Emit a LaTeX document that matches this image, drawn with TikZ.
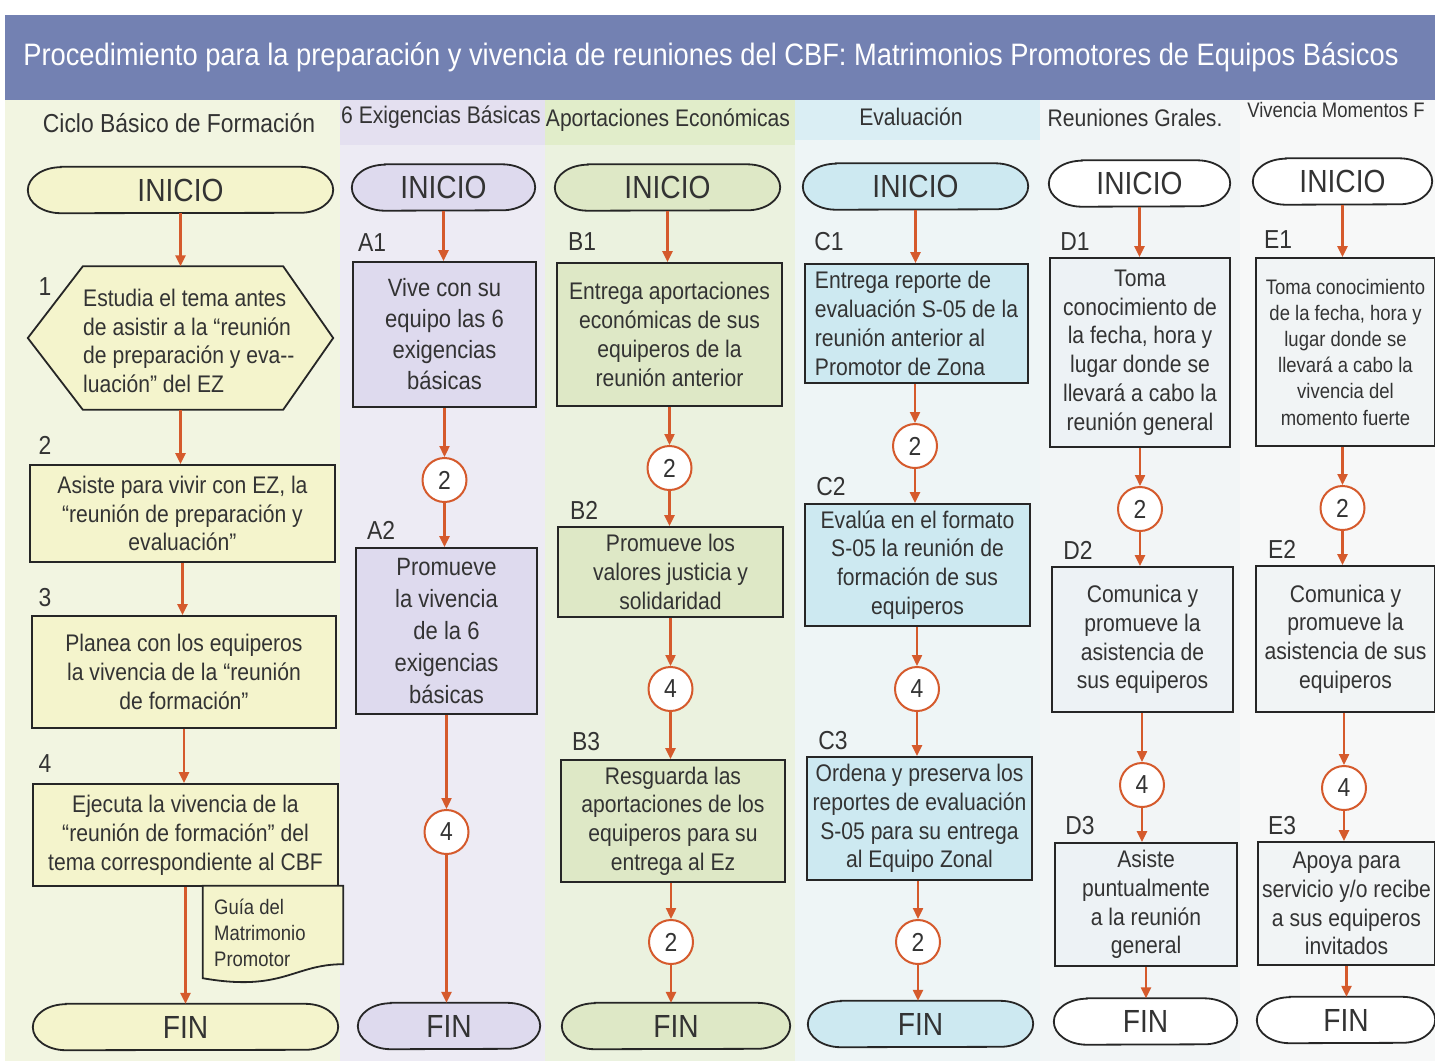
\documentclass[tikz,border=0pt]{standalone}
\usepackage{fontspec}
\setmainfont{Liberation Sans}[FakeStretch=0.88]
\usetikzlibrary{arrows.meta,calc}
\pgfdeclarelayer{back}
\pgfdeclarelayer{shapes}
\pgfsetlayers{back,shapes,main}
\newcommand{\myfs}[2]{\fontsize{#1}{#2}\selectfont}
\newcommand{\termdraw}[2]{\begin{pgfonlayer}{shapes}\draw[draw=boxline, line width=1.8pt, fill=#2] ($(#1.north west)+(33,0)$) -- ($(#1.north east)+(-33,0)$) arc[start angle=90, end angle=-90, x radius=33pt, y radius=23pt] -- ($(#1.south west)+(33,0)$) arc[start angle=270, end angle=90, x radius=33pt, y radius=23pt] -- cycle;\end{pgfonlayer}}
\definecolor{arrc}{HTML}{D55A2C}
\definecolor{boxline}{HTML}{262626}
\definecolor{txt}{HTML}{333333}
\definecolor{titlebg}{HTML}{7381B2}
\definecolor{czero}{HTML}{F2F5E1}
\definecolor{czerof}{HTML}{F4F4CC}
\definecolor{cone}{HTML}{EDEBF4}
\definecolor{coneh}{HTML}{E4E0F0}
\definecolor{conef}{HTML}{DEDAEE}
\definecolor{ctwo}{HTML}{EBF2DF}
\definecolor{ctwoh}{HTML}{E1EDCA}
\definecolor{ctwof}{HTML}{DEE8C6}
\definecolor{cthree}{HTML}{EEF5F6}
\definecolor{cthreeh}{HTML}{DAEEF4}
\definecolor{cthreef}{HTML}{CDE9F1}
\definecolor{cfour}{HTML}{F2F5F6}
\definecolor{cfourf}{HTML}{EDF2F5}
\definecolor{cfive}{HTML}{F7F8F8}
\definecolor{cfivef}{HTML}{F1F4F5}
\tikzset{
  box/.style={draw=boxline, line width=1.8pt, align=center, inner sep=0pt, text=txt, font=\myfs{24}{28.8}},
  term/.style={inner sep=0pt, minimum height=46pt, text=txt, font=\myfs{32}{32}},
  circ/.style={circle, draw=arrc, line width=2pt, fill=white, minimum size=44pt, inner sep=0pt, text=txt, font=\myfs{26}{26}},
  lab/.style={text=txt, font=\myfs{26}{26}, inner sep=0pt},
  hdr/.style={text=txt, font=\myfs{24}{24}, inner sep=0pt},
  arr/.style={draw=arrc, line width=2.3pt, -{Triangle[length=11pt,width=10pt]}},
}
\begin{document}
\begin{tikzpicture}[x=1pt,y=-1pt]
\useasboundingbox (0,0) rectangle (1435,1061);
\begin{pgfonlayer}{back}
\fill[white] (0,0) rectangle (1435,1061);
\fill[titlebg] (5,15) rectangle (1435,100);
\fill[czero] (5,100) rectangle (340,1061);
\fill[cone] (340,100) rectangle (545,1061);
\fill[coneh] (340,100) rectangle (545,145);
\fill[ctwo] (545,100) rectangle (795,1061);
\fill[ctwoh] (545,100) rectangle (795,145);
\fill[cthree] (795,100) rectangle (1040,1061);
\fill[cthreeh] (795,100) rectangle (1040,140);
\fill[cfour] (1040,100) rectangle (1240,1061);
\fill[cfive] (1240,100) rectangle (1435,1061);
\end{pgfonlayer}
% title
\node[text=white, font=\myfs{31}{31}, inner sep=0pt] (title) at (711,57) {Procedimiento para la preparación y vivencia de reuniones del CBF: Matrimonios Promotores de Equipos Básicos};
% headers
\node[hdr, font=\myfs{26}{26}] (h0) at (179,123) {Ciclo Básico de Formación};
\node[hdr] (h1) at (441,117) {6 Exigencias Básicas};
\node[hdr] (h2) at (668,120) {Aportaciones Económicas};
\node[hdr] (h3) at (911,117) {Evaluación};
\node[hdr] (h4) at (1135,118) {Reuniones Grales.};
\node[hdr, font=\myfs{21}{21}] (h5) at (1336,110) {Vivencia Momentos F};

% ---------- column 0
\node[term, minimum width=305pt] (i0) at (180.5,190) {INICIO};
\termdraw{i0}{czerof}
\node[minimum width=305pt, minimum height=143pt, inner sep=0pt] (hx) at (180.5,338) {};
\draw[draw=boxline, line width=1.8pt, fill=czerof] (hx.west) -- ($(hx.north west)+(55,0)$) -- ($(hx.north east)+(-50,0)$) -- (hx.east) -- ($(hx.south east)+(-50,0)$) -- ($(hx.south west)+(55,0)$) -- cycle;
\node[anchor=west, align=left, inner sep=0pt, text=txt, font=\myfs{24}{28.8}] (t1) at (83,341) {Estudia el tema antes\\de asistir a la “reunión\\de preparación y eva-{}-\\luación” del EZ};
\node[lab] (l1) at (45,287) {1};
\node[lab] (l2) at (45,445) {2};
\node[lab] (l3) at (45,598) {3};
\node[lab] (l4) at (45,764) {4};
\node[box, fill=czerof, minimum width=305pt, minimum height=97pt] (b2) at (182.5,513.5) {Asiste para vivir con EZ, la\\“reunión de preparación y\\evaluación”};
\node[box, fill=czerof, minimum width=304pt, minimum height=112pt] (b3) at (184,672) {Planea con los equiperos\\la vivencia de la “reunión\\de formación”};
\node[box, fill=czerof, minimum width=305pt, minimum height=102pt] (b4) at (185.5,835) {Ejecuta la vivencia de la\\“reunión de formación” del\\tema correspondiente al CBF};
\node[minimum width=140pt, minimum height=96pt, inner sep=0pt] (doc) at (273,934) {};
\draw[draw=boxline, line width=1.8pt, fill=czerof] (doc.north west) -- (doc.north east) -- ($(doc.south east)+(0,-18)$) .. controls ($(doc.south east)+(-50,-18)$) and ($(doc.south west)+(80,10)$) .. ($(doc.south west)+(0,-4)$) -- cycle;
\node[anchor=west, align=left, inner sep=0pt, text=txt, font=\myfs{21}{26}] (doct) at (214,933) {Guía del\\Matrimonio\\Promotor};
\node[term, minimum width=305pt] (f0) at (185.5,1027) {FIN};
\termdraw{f0}{czerof}
\draw[arr] (i0.south) -- (i0.south |- hx.north);
\draw[arr] (hx.south) -- (hx.south |- b2.north);
\draw[arr] (b2.south) -- (b2.south |- b3.north);
\draw[arr] (b3.south) -- (b3.south |- b4.north);
\draw[arr] (b4.south) -- (b4.south |- f0.north);

% ---------- column 1
\node[term, minimum width=183pt] (i1) at (443.5,187.5) {INICIO};
\termdraw{i1}{conef}
\node[lab] (la1) at (372,243) {A1};
\node[box, fill=conef, minimum width=183pt, minimum height=145pt, font=\myfs{25}{31}] (a1) at (444.5,334.5) {Vive con su\\equipo las 6\\exigencias\\básicas};
\node[circ] (a1c) at (444.5,480) {2};
\node[lab] (la2) at (381,530) {A2};
\node[box, fill=conef, minimum width=181pt, minimum height=166pt, font=\myfs{25}{32}] (a2) at (446.5,631) {Promueve\\la vivencia\\de la 6\\exigencias\\básicas};
\node[circ] (a2c) at (446.5,832) {4};
\node[term, minimum width=182pt] (f1) at (449,1026) {FIN};
\termdraw{f1}{conef}
\draw[arr] (i1.south) -- (i1.south |- a1.north);
\draw[arr] (a1.south) -- (a1.south |- a1c.north);
\draw[arr] (a1c.south) -- (a1c.south |- a2.north);
\draw[arr] (a2.south) -- (a2.south |- a2c.north);
\draw[arr] (a2c.south) -- (a2c.south |- f1.north);

% ---------- column 2
\node[term, minimum width=225pt] (i2) at (667.5,187.5) {INICIO};
\termdraw{i2}{ctwof}
\node[lab] (lb1) at (582,242) {B1};
\node[box, fill=ctwof, minimum width=225pt, minimum height=143pt] (c2b1) at (669.5,334.5) {Entrega aportaciones\\económicas de sus\\equiperos de la\\reunión anterior};
\node[circ] (b1c) at (669.5,468) {2};
\node[lab] (lb2) at (584,510) {B2};
\node[box, fill=ctwof, minimum width=225pt, minimum height=90pt] (c2b2) at (670.5,572) {Promueve los\\valores justicia y\\solidaridad};
\node[circ] (b2c) at (670.5,689) {4};
\node[lab] (lb3) at (586,742) {B3};
\node[box, fill=ctwof, minimum width=224pt, minimum height=122pt] (c2b3) at (673,821) {Resguarda las\\aportaciones de los\\equiperos para su\\entrega al Ez};
\node[circ] (b3c) at (671,942) {2};
\node[term, minimum width=228pt] (f2) at (676,1026) {FIN};
\termdraw{f2}{ctwof}
\draw[arr] (i2.south) -- (i2.south |- c2b1.north);
\draw[arr] (c2b1.south) -- (c2b1.south |- b1c.north);
\draw[arr] (b1c.south) -- (b1c.south |- c2b2.north);
\draw[arr] (c2b2.south) -- (c2b2.south |- b2c.north);
\draw[arr] (b2c.south) -- (b2c.south |- c2b3.north);
\draw[arr] (c2b3.south -| b3c) -- (b3c.north);
\draw[arr] (b3c.south) -- (b3c.south |- f2.north);

% ---------- column 3
\node[term, minimum width=225pt] (i3) at (915.5,186.5) {INICIO};
\termdraw{i3}{cthreef}
\node[lab] (lc1) at (829,242) {C1};
\node[box, fill=cthreef, minimum width=223pt, minimum height=119pt, align=left] (c1) at (916.5,323.5) {Entrega reporte de\\evaluación S-05 de la\\reunión anterior al\\Promotor de Zona};
\node[circ] (c1c) at (915,446) {2};
\node[lab] (lc2) at (831,487) {C2};
\node[box, fill=cthreef, minimum width=225pt, minimum height=122pt] (c2) at (917.5,565) {Evalúa en el formato\\S-05 la reunión de\\formación de sus\\equiperos};
\node[circ] (c2c) at (917,689) {4};
\node[lab] (lc3) at (833,741) {C3};
\node[box, fill=cthreef, minimum width=225pt, minimum height=123pt] (c3) at (919.5,818.5) {Ordena y preserva los\\reportes de evaluación\\S-05 para su entrega\\al Equipo Zonal};
\node[circ] (c3c) at (918,942) {2};
\node[term, minimum width=225pt] (f3) at (920.5,1024) {FIN};
\termdraw{f3}{cthreef}
\draw[arr] (i3.south) -- (i3.south |- c1.north);
\draw[arr] (c1.south -| c1c) -- (c1c.north);
\draw[arr] (c1c.south) -- (c1c.south |- c2.north);
\draw[arr] (c2.south -| c2c) -- (c2c.north);
\draw[arr] (c2c.south) -- (c2c.south |- c3.north);
\draw[arr] (c3.south -| c3c) -- (c3c.north);
\draw[arr] (c3c.south) -- (c3c.south |- f3.north);

% ---------- column 4
\node[term, minimum width=181pt] (i4) at (1139.5,183.5) {INICIO};
\termdraw{i4}{white}
\node[lab] (ld1) at (1075,242) {D1};
\node[box, fill=cfourf, minimum width=180pt, minimum height=189pt] (d1) at (1140,352.5) {Toma\\conocimiento de\\la fecha, hora y\\lugar donde se\\llevará a cabo la\\reunión general};
\node[circ] (d1c) at (1140,509) {2};
\node[lab] (ld2) at (1078,550) {D2};
\node[box, fill=cfourf, minimum width=181pt, minimum height=145pt] (d2) at (1142.5,639.5) {Comunica y\\promueve la\\asistencia de\\sus equiperos};
\node[circ] (d2c) at (1142,785) {4};
\node[lab] (ld3) at (1080,826) {D3};
\node[box, fill=cfourf, minimum width=182pt, minimum height=123pt] (d3) at (1146,904.5) {Asiste\\puntualmente\\a la reunión\\general};
\node[term, minimum width=183pt] (f4) at (1145.5,1021.5) {FIN};
\termdraw{f4}{white}
\draw[arr] (i4.south) -- (i4.south |- d1.north);
\draw[arr] (d1.south) -- (d1.south |- d1c.north);
\draw[arr] (d1c.south) -- (d1c.south |- d2.north);
\draw[arr] (d2c |- d2.south) -- (d2c.north);
\draw[arr] (d2c.south) -- (d2c.south |- d3.north);
\draw[arr] (d3.south) -- (d3.south |- f4.north);

% ---------- column 5
\node[term, minimum width=179pt] (i5) at (1342.5,181.5) {INICIO};
\termdraw{i5}{white}
\node[lab] (le1) at (1278,240) {E1};
\node[box, fill=cfivef, minimum width=179pt, minimum height=188pt, font=\myfs{21}{26.2}] (e1) at (1345.5,352) {Toma conocimiento\\de la fecha, hora y\\lugar donde se\\llevará a cabo la\\vivencia del\\momento fuerte};
\node[circ] (e1c) at (1342.5,508) {2};
\node[lab] (le2) at (1282,549) {E2};
\node[box, fill=cfivef, minimum width=179pt, minimum height=146pt] (e2) at (1345.5,639) {Comunica y\\promueve la\\asistencia de sus\\equiperos};
\node[circ] (e2c) at (1344,788) {4};
\node[lab] (le3) at (1282,826) {E3};
\node[box, fill=cfivef, minimum width=177pt, minimum height=123pt] (e3) at (1346.5,903.5) {Apoya para\\servicio y/o recibe\\a sus equiperos\\invitados};
\node[term, minimum width=178pt] (f5) at (1346,1020) {FIN};
\termdraw{f5}{white}
\draw[arr] (i5.south) -- (i5.south |- e1.north);
\draw[arr] (e1c |- e1.south) -- (e1c.north);
\draw[arr] (e1c.south) -- (e1c.south |- e2.north);
\draw[arr] (e2c |- e2.south) -- (e2c.north);
\draw[arr] (e2c.south) -- (e2c.south |- e3.north);
\draw[arr] (e3.south) -- (e3.south |- f5.north);
\end{tikzpicture}
\end{document}
